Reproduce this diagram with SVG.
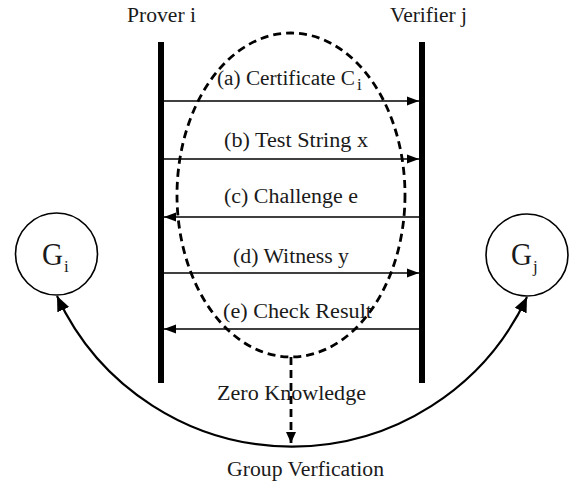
<svg xmlns="http://www.w3.org/2000/svg" width="570" height="484" viewBox="0 0 570 484">
<style>
text { font-family: "Liberation Serif", "Times New Roman", serif; font-size: 20px; fill: #1a1a1a; }
.life { fill: #000; }
.msg { stroke: #000; stroke-width: 1.4; fill: none; }
.node { fill: #fff; stroke: #000; stroke-width: 1.6; }
.big { font-size: 31px; }
.sub { font-size: 17px; }
.dash { stroke: #000; stroke-width: 2.8; fill: none; stroke-dasharray: 8 5; }
.arc { stroke: #000; stroke-width: 2.2; fill: none; }
</style>
<defs>
<marker id="ah" markerUnits="userSpaceOnUse" markerWidth="13" markerHeight="10" refX="12" refY="5" orient="auto">
<path d="M0,0.6 L12,5 L0,9.4 Z" fill="#000"/>
</marker>
<marker id="bh" markerUnits="userSpaceOnUse" markerWidth="16" markerHeight="14" refX="15" refY="7" orient="auto-start-reverse">
<path d="M0,0.5 L15,7 L0,13.5 Z" fill="#000"/>
</marker>
<marker id="dh" markerUnits="userSpaceOnUse" markerWidth="12" markerHeight="12" refX="11" refY="5.5" orient="auto">
<path d="M0,0.5 L11,5.5 L0,10.5 Z" fill="#000"/>
</marker>
</defs>

<g id="prover">
<rect class="life" x="158" y="42" width="6" height="341"/>
<text x="127" y="22" textLength="69" lengthAdjust="spacingAndGlyphs">Prover i</text>
</g>
<g id="verifier">
<rect class="life" x="419" y="42" width="6" height="341"/>
<text x="390" y="22" textLength="77" lengthAdjust="spacingAndGlyphs">Verifier j</text>
</g>

<g id="zero-knowledge">
<ellipse class="dash" cx="291" cy="195" rx="114" ry="162"/>
<text x="217" y="400" textLength="149" lengthAdjust="spacingAndGlyphs">Zero Knowledge</text>
</g>

<g id="Gi">
<circle class="node" cx="56.5" cy="254" r="41"/>
<text class="big" x="42" y="265" textLength="21" lengthAdjust="spacingAndGlyphs">G</text>
<text class="sub" x="64" y="272">i</text>
</g>
<g id="Gj">
<circle class="node" cx="527" cy="255" r="41"/>
<text class="big" x="511" y="265" textLength="21" lengthAdjust="spacingAndGlyphs">G</text>
<text class="sub" x="533" y="272">j</text>
</g>

<g id="group-verification">
<text x="227" y="476" textLength="157" lengthAdjust="spacingAndGlyphs">Group Verfication</text>
</g>

<g id="connectors">
<line class="msg" x1="164" y1="101" x2="419" y2="101" marker-end="url(#ah)"/>
<line class="msg" x1="164" y1="159" x2="419" y2="159" marker-end="url(#ah)"/>
<line class="msg" x1="419" y1="217" x2="164" y2="217" marker-end="url(#ah)"/>
<line class="msg" x1="164" y1="273" x2="419" y2="273" marker-end="url(#ah)"/>
<line class="msg" x1="419" y1="329" x2="164" y2="329" marker-end="url(#ah)"/>
<path class="dash" d="M291,357 L291,443" marker-end="url(#dh)"/>
<path class="arc" d="M57,296 A259,259 0 0,0 527,297" marker-start="url(#bh)" marker-end="url(#bh)"/>
</g>

<g id="labels">
<text x="217" y="85" textLength="138" lengthAdjust="spacingAndGlyphs">(a) Certificate C</text>
<text class="sub" x="357" y="90" font-size="14">i</text>
<text x="224" y="147" textLength="144" lengthAdjust="spacingAndGlyphs">(b) Test String x</text>
<text x="224" y="203" textLength="134" lengthAdjust="spacingAndGlyphs">(c) Challenge e</text>
<text x="233" y="263" textLength="116" lengthAdjust="spacingAndGlyphs">(d) Witness y</text>
<text x="223" y="318" textLength="149" lengthAdjust="spacingAndGlyphs">(e) Check Result</text>
</g>
</svg>
